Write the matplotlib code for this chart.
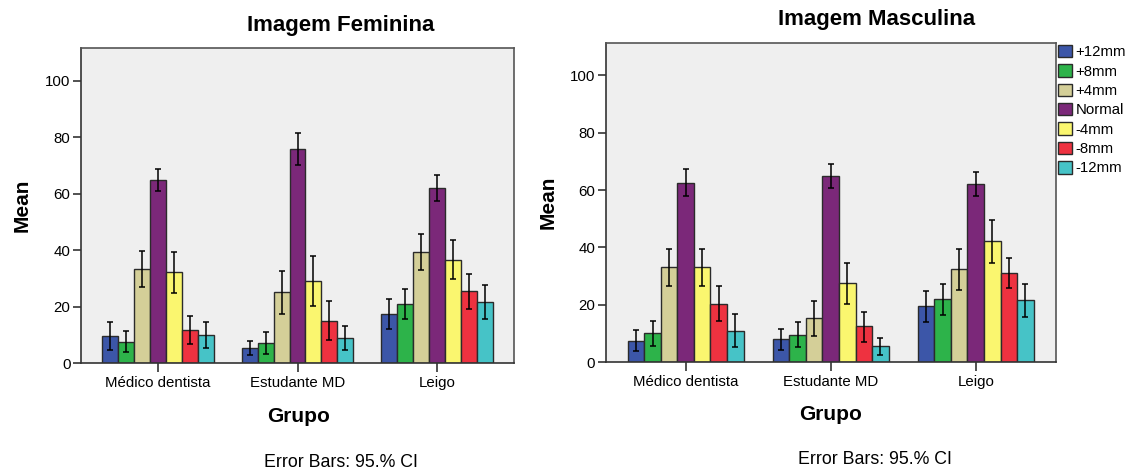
import numpy as np
import matplotlib
matplotlib.use("Agg")
import matplotlib.pyplot as plt

plt.rcParams["font.family"] = ["Liberation Sans", "DejaVu Sans"]

grupos = ["Médico dentista", "Estudante MD", "Leigo"]
niveis = ["+12mm", "+8mm", "+4mm", "Normal", "-4mm", "-8mm", "-12mm"]
cores = ["#3C56A8", "#2DB34A", "#D4CF98", "#7B2879", "#FAF66F", "#EE3240", "#46C3C7"]

# mean, lower CI, upper CI  (rows = niveis, cols = grupos)
fem_mean = [[9.7, 5.5, 17.5], [7.5, 7.3, 20.8], [33.5, 25.1, 39.5], [65.0, 75.8, 62.1],
            [32.3, 29.2, 36.7], [11.8, 15.0, 25.4], [10.0, 9.0, 21.8]]
fem_lo = [[4.7, 2.9, 12.3], [4.0, 3.4, 15.6], [27.1, 17.5, 33.1], [61.0, 70.0, 57.5],
          [24.8, 20.2, 29.7], [7.0, 8.1, 19.3], [5.3, 4.8, 15.7]]
fem_hi = [[14.6, 7.9, 22.6], [11.4, 11.0, 26.2], [39.7, 32.7, 45.9], [68.8, 81.6, 66.5],
          [39.5, 38.1, 43.5], [16.7, 22.1, 31.6], [14.5, 13.1, 27.8]]

masc_mean = [[7.5, 7.9, 19.4], [10.0, 9.5, 22.0], [33.0, 15.3, 32.3], [62.6, 64.9, 62.1],
             [33.0, 27.4, 42.2], [20.3, 12.4, 31.1], [10.9, 5.5, 21.5]]
masc_lo = [[3.8, 4.3, 13.8], [5.7, 5.3, 16.4], [26.6, 9.1, 25.3], [58.0, 60.9, 58.1],
           [26.6, 20.4, 34.6], [14.3, 6.9, 25.8], [5.1, 2.4, 15.7]]
masc_hi = [[11.1, 11.5, 24.9], [14.3, 13.9, 27.3], [39.4, 21.4, 39.3], [67.4, 69.1, 66.3],
           [39.4, 34.4, 49.7], [26.5, 17.4, 36.4], [16.8, 8.5, 27.1]]

W, H = 1129, 472


def draw_panel(ax, mean, lo, hi, ylab_x):
    mean = np.array(mean)
    lo = np.array(lo)
    hi = np.array(hi)
    x = np.arange(len(grupos))
    w = 0.114
    for i in range(len(niveis)):
        pos = x + (i - 3) * w
        ax.bar(pos, mean[i], width=w, color=cores[i], edgecolor="#2b2b2b",
               linewidth=1.0, label=niveis[i], zorder=2)
        ax.errorbar(pos, mean[i], yerr=[mean[i] - lo[i], hi[i] - mean[i]],
                    fmt="none", ecolor="black", elinewidth=1.1, capsize=2.2,
                    capthick=1.1, zorder=3)
    ax.set_facecolor("#EFEFEF")
    ax.set_xlim(-0.551, 2.551)
    ax.set_ylim(0, 111.4)
    ax.set_yticks([0, 20, 40, 60, 80, 100])
    ax.set_xticks(x)
    ax.set_xticklabels(grupos)
    ax.tick_params(axis="y", labelsize=10.8, length=6, width=1.2, pad=1.5,
                   color="#333333")
    ax.tick_params(axis="x", labelsize=10.8, length=6.5, width=1.2, pad=3,
                   color="#333333")
    for s in ax.spines.values():
        s.set_color("#555555")
        s.set_linewidth(1.2)
    ax.spines["left"].set_color("#333333")
    ax.spines["bottom"].set_color("#333333")
    ax.set_ylabel("Mean", fontsize=15, fontweight="bold", va="center")
    ax.yaxis.set_label_coords(ylab_x, 0.5)


fig = plt.figure(figsize=(W / 100, H / 100), dpi=100)
ax1 = fig.add_axes([81 / W, 0.2303, 433 / W, 315 / H])
ax2 = fig.add_axes([605.7 / W, 110 / H, 450 / W, 319.2 / H])

draw_panel(ax1, fem_mean, fem_lo, fem_hi, -0.136)
draw_panel(ax2, masc_mean, masc_lo, masc_hi, -0.128)

ax2.legend(loc="upper left", bbox_to_anchor=(1058 / W, 1 - 45 / H),
           bbox_transform=fig.transFigure, frameon=False, fontsize=10.8,
           handlelength=0.96, handleheight=0.9, handletextpad=0.2,
           labelspacing=0.33, borderaxespad=0, borderpad=0)

fig.text(340.3 / W, 1 - 25 / H, "Imagem Feminina", ha="center", va="center",
         fontsize=16, fontweight="bold")
fig.text(876.7 / W, 1 - 20 / H, "Imagem Masculina", ha="center", va="center",
         fontsize=16, fontweight="bold")
fig.text(298.5 / W, 1 - 417 / H, "Grupo", ha="center", va="center",
         fontsize=15, fontweight="bold")
fig.text(831 / W, 1 - 415 / H, "Grupo", ha="center", va="center",
         fontsize=15, fontweight="bold")
fig.text(340.8 / W, 1 - 462.7 / H, "Error Bars: 95.% CI", ha="center", va="center",
         fontsize=12.8)
fig.text(874.5 / W, 1 - 460 / H, "Error Bars: 95.% CI", ha="center", va="center",
         fontsize=12.8)

fig.savefig("out.png", dpi=100)
